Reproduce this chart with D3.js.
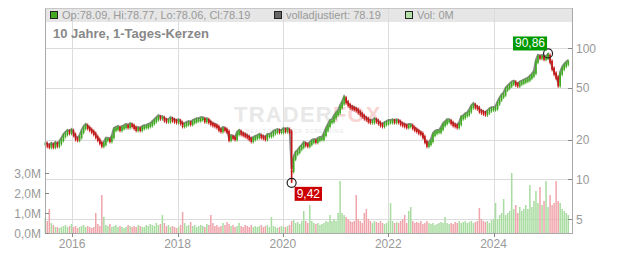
<html>
<head>
<meta charset="utf-8">
<script src="https://d3js.org/d3.v7.min.js"></script>
<style>
  body { margin: 0; background: #fff; }
  svg { display: block; font-family: "Liberation Sans", Arial, sans-serif; }
  .tick-label { fill: #999; font-size: 12px; }
</style>
</head>
<body>
<div id="chart"></div>
<script>
// closing prices, one value about every two weeks
const closes2015_17 = [18.6,18.0,17.7,18.3,17.7,18.6,18.0,18.9,20.0,21.4,22.2,23.0,22.6,23.3,21.8,20.3,20.0,21.0,23.0,24.6,25.5,24.6,23.8,23.0,22.2,21.0,20.0,18.9,18.0,18.6,20.0,20.0,19.6,21.0,23.8,24.2,24.6,23.8,24.6,25.0,25.5,25.0,25.9,25.5,24.6,23.8,24.2,23.8,24.6,25.0,25.0,25.5,25.9];
const closes2017_19 = [26.8,27.7,28.7,29.7,29.2,29.2,28.2,27.7,27.7,28.7,28.2,27.7,27.3,27.7,26.8,25.5,25.9,26.4,26.8,26.4,27.3,27.7,28.2,28.2,28.7,28.7,27.7,28.2,27.3,26.4,25.9,25.5,25.0,23.8,23.3,24.2,23.8,23.0,20.0,21.0,20.7,20.3,22.2,23.0,22.2,21.8,21.4,21.0,20.3,19.6,20.3,20.7];
const closes2019_21 = [21.0,21.4,21.0,20.7,20.3,21.4,21.4,21.8,22.6,23.0,23.3,23.0,23.0,23.8,23.3,23.8,23.0,11.6,14.4,15.7,16.2,17.1,17.7,18.6,18.3,18.0,18.6,19.3,19.6,19.3,20.0,20.3,20.3,21.8,23.8,25.5,27.3,27.7,29.7,31.3,32.4,35.4,37.9,41.4,38.6,36.7,35.4,34.8,34.2,33.6,32.4,31.3,30.3];
const closes2021_23 = [29.2,28.7,27.7,27.3,27.3,28.2,27.7,26.8,25.9,25.5,26.4,26.8,27.3,27.3,27.7,27.3,27.7,27.3,26.4,25.9,25.5,25.0,25.5,25.5,24.6,23.8,23.3,22.6,22.2,21.0,19.3,18.0,18.6,19.6,21.8,22.6,23.0,23.0,24.2,25.9,26.8,27.7,27.7,26.8,25.9,25.5,25.0,26.4,29.2,29.7,30.8,31.3];
const closes2023_25 = [33.0,35.4,36.7,35.4,34.8,33.0,32.4,31.8,31.3,32.4,33.6,34.2,34.2,34.8,37.9,40.6,42.8,44.3,48.3,50.0,51.8,53.6,54.5,52.7,51.8,53.6,54.5,55.5,56.5,57.4,59.5,61.6,64.8,78.5,85.5,84.1,85.5,82.6,84.1,87.1,78.5,69.5,63.7,59.5,52.0,63.7,69.5,73.2,75.8,78.19];

// volume in millions, same points
const vol2015_17 = [0.75,0.6,1.2,0.5,0.4,0.3,0.3,0.25,0.3,0.35,0.4,0.3,0.35,0.45,0.3,0.35,0.25,0.3,0.35,0.4,0.3,0.35,0.3,0.25,0.3,1.0,0.45,0.35,1.9,0.8,0.4,0.35,0.45,0.3,0.35,0.4,0.3,0.35,0.3,0.25,0.3,0.4,0.35,0.3,0.35,0.3,0.4,0.35,0.3,0.3,0.4,0.35,0.45];
const vol2017_19 = [0.4,0.35,0.5,0.4,0.45,0.9,0.5,0.35,0.4,0.3,0.35,0.3,0.25,0.3,0.4,1.05,0.5,0.35,0.4,0.55,0.35,0.4,0.3,0.35,0.4,0.35,0.3,0.45,0.4,0.9,0.5,0.35,0.4,0.3,0.35,0.5,0.4,0.55,0.45,0.35,0.4,0.3,0.35,0.5,0.35,0.3,0.4,0.35,0.3,0.4,0.3,0.35];
const vol2019_21 = [0.3,0.35,0.4,0.3,0.35,0.4,0.3,0.8,0.35,0.3,0.25,0.3,0.35,0.3,0.3,0.35,0.4,0.6,0.65,0.5,0.55,0.45,0.6,1.1,0.6,0.5,1.4,0.6,0.5,0.45,0.5,0.4,0.45,0.5,0.6,0.55,0.9,0.6,0.7,0.6,1.0,2.6,1.0,0.9,0.8,0.7,0.6,0.55,0.6,1.9,0.7,0.6,0.5];
const vol2021_23 = [1.0,1.2,0.7,0.6,0.5,0.6,0.55,0.5,0.6,0.5,0.45,0.5,0.6,1.5,0.6,0.5,0.55,0.5,0.6,0.7,0.9,0.5,1.1,1.3,0.6,0.5,0.55,0.5,0.6,0.45,0.5,0.6,0.5,0.45,0.5,0.4,0.45,0.5,0.55,0.5,0.8,0.5,0.45,0.5,0.45,0.55,0.5,0.6,0.5,0.55,0.6,0.5];
const vol2023_25 = [0.55,0.6,0.5,0.55,0.6,1.25,0.7,0.6,0.55,0.6,0.5,0.65,0.7,1.5,0.7,0.9,1.0,1.7,0.9,1.0,1.1,3.0,1.2,1.4,1.0,1.3,1.1,1.2,1.4,1.2,2.4,1.3,1.6,2.1,1.5,2.3,1.4,1.6,2.6,1.3,1.9,1.4,1.5,2.6,1.6,1.5,1.2,1.1,1.0,0.9];

const extremeLow = 9.42;
const extremeHigh = 90.86;
const priceTicks = [5, 10, 20, 50, 100];
const volTicks = [0, 1, 2, 3];
const legendItems = [
  { label: "Op:78.09, Hi:78.77, Lo:78.06, Cl:78.19", color: "#44aa22" },
  { label: "volladjustiert: 78.19", color: "#666666" },
  { label: "Vol: 0M", color: "#b3e0a8" }
];

const closes = [].concat(closes2015_17, closes2017_19, closes2019_21, closes2021_23, closes2023_25);
const vols = [].concat(vol2015_17, vol2017_19, vol2019_21, vol2021_23, vol2023_25);
const start = new Date(2015, 5, 29);
const data = closes.map((c, i) => ({
  date: d3.timeDay.offset(start, 14 * i),
  open: i ? closes[i - 1] : c,
  close: c,
  vol: vols[i] || 0
}));

const W = 632, H = 253;
const pL = 45, pR = 572, pT = 8, pB = 233;

const svg = d3.select('#chart').append('svg').attr('width', W).attr('height', H);

const x = d3.scaleTime()
  .domain([new Date(2015, 5, 27), new Date(2025, 5, 28)])
  .range([pL, pR]);
const y = d3.scaleLog().domain([5, 100]).range([219, 48]);
const yv = d3.scaleLinear().domain([0, 3]).range([pB, 173]);
const up = d => d.close >= d.open;

// legend background
svg.append('rect').attr('x', pL).attr('y', pT).attr('width', pR - pL).attr('height', 14)
  .attr('fill', '#e6e6e6');

// grid
const yearTicks = x.ticks(d3.timeYear.every(2));
svg.append('g').selectAll('line').data(yearTicks).join('line')
  .attr('x1', d => Math.round(x(d)) + 0.5).attr('x2', d => Math.round(x(d)) + 0.5)
  .attr('y1', pT).attr('y2', pB)
  .attr('stroke', '#dcdcdc');
svg.append('g').selectAll('line').data(priceTicks).join('line')
  .attr('x1', pL).attr('x2', pR)
  .attr('y1', d => Math.round(y(d)) + 0.5).attr('y2', d => Math.round(y(d)) + 0.5)
  .attr('stroke', '#dcdcdc');

// watermark
const wm = svg.append('text').attr('x', 234).attr('y', 122)
  .attr('font-size', 22).attr('font-weight', 'bold').attr('letter-spacing', 1.2);
wm.append('tspan').attr('fill', '#e8e8e8').text('TRADER');
wm.append('tspan').attr('fill', '#f8d4d4').text('FOX');
svg.append('text').attr('x', 246).attr('y', 133).attr('font-size', 5)
  .attr('fill', '#e2e2e2').attr('letter-spacing', 1).text('REALTIME  STOCK  SCREENING');

// volume
svg.append('g').selectAll('rect').data(data).join('rect')
  .attr('x', d => x(d.date) - 0.75)
  .attr('width', 1.5)
  .attr('y', d => yv(d.vol))
  .attr('height', d => pB - yv(d.vol))
  .attr('fill', d => up(d) ? '#a8dca0' : '#f0a4ab');

// adjusted close line
svg.append('path').datum(data)
  .attr('d', d3.line().x(d => x(d.date)).y(d => y(d.close) - 2))
  .attr('fill', 'none').attr('stroke', '#8a8a8a').attr('stroke-width', 2);

// candles: thin wick plus body
const cg = svg.append('g');
cg.selectAll('line').data(data).join('line')
  .attr('x1', d => x(d.date)).attr('x2', d => x(d.date))
  .attr('y1', d => y(Math.max(d.open, d.close)) - 2.5)
  .attr('y2', d => y(Math.min(d.open, d.close)) + 2.5)
  .attr('stroke', d => up(d) ? '#3fa820' : '#c81414').attr('stroke-width', 0.9);
cg.selectAll('rect').data(data).join('rect')
  .attr('x', d => x(d.date) - 0.8)
  .attr('width', 1.6)
  .attr('y', d => y(Math.max(d.open, d.close)) - 1)
  .attr('height', d => Math.abs(y(d.open) - y(d.close)) + 2)
  .attr('fill', d => up(d) ? '#3fa820' : '#c81414');

// extremes
const lo = data[d3.minIndex(data, d => d.close)];
const hi = data[d3.maxIndex(data, d => d.close)];
svg.append('line').attr('x1', x(lo.date)).attr('x2', x(lo.date))
  .attr('y1', y(lo.close)).attr('y2', y(extremeLow)).attr('stroke', '#c81414').attr('stroke-width', 1.6);
svg.append('line').attr('x1', x(hi.date)).attr('x2', x(hi.date))
  .attr('y1', y(hi.close)).attr('y2', y(extremeHigh)).attr('stroke', '#3fa820').attr('stroke-width', 1.6);

const fmt = v => v.toFixed(2).replace('.', ',');
[[lo, extremeLow, '#cc0000', 1], [hi, extremeHigh, '#009900', -1]].forEach(([d, v, col, dir]) => {
  const cx = x(d.date), cy = y(v);
  svg.append('circle').attr('cx', cx).attr('cy', cy).attr('r', 4.5)
    .attr('fill', 'none').attr('stroke', '#222').attr('stroke-width', 1.2);
  const box = svg.append('rect').attr('fill', col);
  const t = svg.append('text').attr('font-size', 12).attr('fill', '#fff').text(fmt(v));
  const tw = t.node().getComputedTextLength();
  const bx = dir > 0 ? cx + 3 : cx - tw - 5;
  const by = dir > 0 ? cy + 4 : cy - 17;
  box.attr('x', bx).attr('y', by).attr('width', tw + 4).attr('height', 14);
  t.attr('x', bx + 2).attr('y', by + 11);
});

// frame
svg.append('line').attr('x1', pL + 0.5).attr('x2', pL + 0.5).attr('y1', pT).attr('y2', pB).attr('stroke', '#aaa');
svg.append('line').attr('x1', pR + 0.5).attr('x2', pR + 0.5).attr('y1', pT).attr('y2', pB).attr('stroke', '#aaa');
svg.append('line').attr('x1', pL).attr('x2', pR).attr('y1', pT + 0.5).attr('y2', pT + 0.5).attr('stroke', '#c8c8c8');
svg.append('line').attr('x1', pL).attr('x2', pR + 1).attr('y1', pB + 0.5).attr('y2', pB + 0.5).attr('stroke', '#aaa');

// right price axis
const ra = svg.append('g');
ra.selectAll('line').data(priceTicks).join('line')
  .attr('x1', pR - 4).attr('x2', pR)
  .attr('y1', d => Math.round(y(d)) + 0.5).attr('y2', d => Math.round(y(d)) + 0.5)
  .attr('stroke', '#888');
ra.selectAll('text').data(priceTicks).join('text').attr('class', 'tick-label')
  .attr('x', pR + 4).attr('y', d => y(d) + 4.5).text(d => d);

// left volume axis
const la = svg.append('g');
la.selectAll('line').data(volTicks).join('line')
  .attr('x1', pL).attr('x2', pL + 4)
  .attr('y1', d => Math.round(yv(d)) + 0.5).attr('y2', d => Math.round(yv(d)) + 0.5)
  .attr('stroke', '#888');
la.selectAll('text').data(volTicks).join('text').attr('class', 'tick-label')
  .attr('x', pL - 4).attr('y', d => yv(d) + 4.5).attr('text-anchor', 'end')
  .text(d => d.toFixed(1).replace('.', ',') + 'M');

// x axis
const xa = svg.append('g');
xa.selectAll('line').data(yearTicks).join('line')
  .attr('x1', d => Math.round(x(d)) + 0.5).attr('x2', d => Math.round(x(d)) + 0.5)
  .attr('y1', pB).attr('y2', pB + 4).attr('stroke', '#888');
xa.selectAll('text').data(yearTicks).join('text').attr('class', 'tick-label')
  .attr('x', d => x(d)).attr('y', 248).attr('text-anchor', 'middle')
  .text(d => d.getFullYear());

// legend
const legendX = [50, 274, 405];
legendItems.forEach((it, i) => {
  svg.append('rect').attr('x', legendX[i] + 0.5).attr('y', 11.5).attr('width', 7).attr('height', 7)
    .attr('fill', it.color).attr('stroke', '#222');
  svg.append('text').attr('x', legendX[i] + 12).attr('y', 19).attr('font-size', 11)
    .attr('fill', '#999').text(it.label);
});

// title
svg.append('text').attr('x', 53).attr('y', 38).attr('font-size', 13).attr('font-weight', 'bold')
  .attr('fill', '#888').text('10 Jahre, 1-Tages-Kerzen');
</script>
</body>
</html>
